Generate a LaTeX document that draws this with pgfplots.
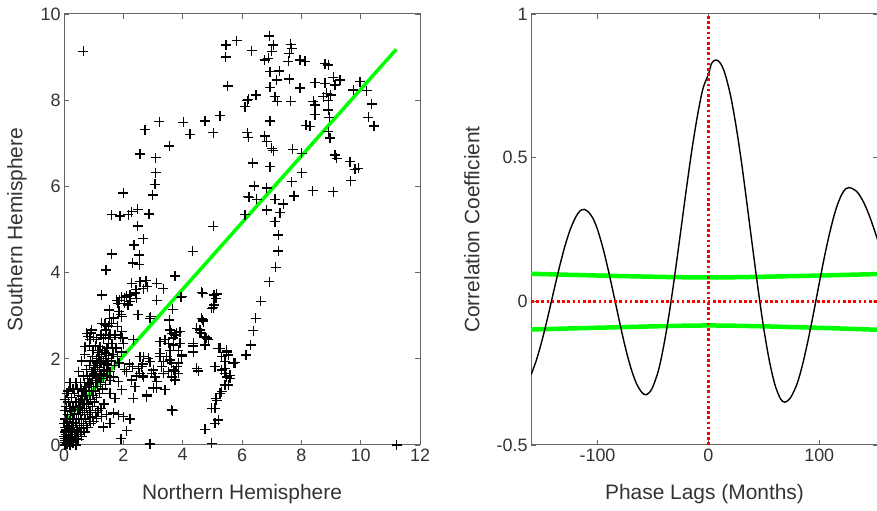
\documentclass[border=0pt]{standalone}
\usepackage{fontspec}
\setmainfont{Liberation Sans}
\usepackage{pgfplots}
\pgfplotsset{compat=1.18}
\definecolor{axtext}{HTML}{333333}
\definecolor{axline}{HTML}{666666}
\definecolor{mgreen}{HTML}{00FF00}
\definecolor{mred}{HTML}{FF0000}

\pgfplotsset{
  mlab/.style={
    scale only axis,
    axis line style={draw=axline, line width=1bp},
    tick style={draw=axline, line width=0.8bp},
    major tick length=5bp,
    tick align=inside,
    ticklabel style={font=\fontsize{18}{20}\selectfont, text=axtext},
    label style={font=\fontsize{21}{24}\selectfont, text=axtext},
    /pgf/number format/assume math mode=true,
  }
}

\pgfplotstableread{
x y
0.65 9.13
5.46 9.28
5.82 9.38
5.45 9.00
6.33 9.15
5.52 8.33
6.47 8.12
6.18 7.99
6.10 7.85
5.26 7.64
4.75 7.52
4.02 7.49
3.21 7.50
2.73 7.32
5.03 7.25
4.25 7.21
6.18 7.25
6.21 7.14
3.55 6.94
2.56 6.75
3.09 6.67
6.36 6.54
3.09 6.32
3.07 6.05
6.41 6.01
2.00 5.85
2.99 5.80
6.25 5.75
1.61 5.34
1.89 5.31
2.17 5.34
2.28 5.41
2.48 5.47
2.87 5.36
2.48 5.08
5.03 5.07
6.10 5.34
6.92 9.49
7.06 9.28
7.00 9.13
7.64 9.30
7.67 9.20
7.59 9.09
6.77 8.93
6.89 8.97
7.56 8.90
7.95 8.93
8.12 8.90
8.80 8.85
8.91 8.82
6.94 8.66
7.26 8.68
7.17 8.47
7.59 8.49
6.94 8.30
7.95 8.28
8.46 8.41
8.80 8.39
9.08 8.53
9.30 8.47
9.13 8.35
6.21 8.02
7.11 8.08
7.19 7.97
7.64 7.97
8.40 7.97
8.46 7.89
8.74 8.08
8.85 8.16
8.91 8.00
8.99 8.12
9.75 8.24
9.98 8.43
10.20 8.22
10.37 7.91
10.26 7.60
10.45 7.40
8.46 7.66
8.91 7.77
8.94 7.60
6.94 7.52
8.16 7.42
8.29 7.39
8.91 7.27
6.77 7.17
6.83 7.04
7.00 6.88
7.06 6.83
7.71 6.86
8.01 6.77
8.97 7.12
9.13 6.73
9.19 6.65
9.64 6.57
9.81 6.40
9.92 6.42
6.94 6.46
8.01 6.32
7.67 6.11
9.66 6.13
6.21 5.76
6.49 5.70
6.83 5.96
7.11 5.70
7.75 5.78
8.38 5.90
9.08 5.88
7.39 5.59
6.83 5.45
7.28 5.39
7.11 5.18
7.22 4.87
7.22 4.50
7.13 4.12
6.92 3.79
6.63 3.33
6.46 2.94
6.38 2.65
6.29 2.32
6.13 2.09
11.21 0.00
2.67 4.79
2.36 4.64
2.54 4.41
1.61 4.43
2.54 4.18
4.34 4.49
1.42 4.06
2.32 4.22
3.74 3.92
2.28 3.75
2.56 3.79
2.76 3.81
2.81 3.67
3.12 3.75
3.35 3.63
2.67 3.63
2.43 3.60
1.27 3.48
1.94 3.43
1.78 3.36
2.11 3.46
2.22 3.33
3.12 3.36
3.97 3.44
4.67 3.52
5.06 3.48
5.12 3.40
4.64 3.54
3.93 3.43
1.53 3.13
1.94 2.98
2.50 3.02
2.90 2.94
3.66 3.15
4.98 3.17
5.06 3.25
4.64 2.94
4.70 2.86
1.27 2.82
1.38 2.81
1.49 2.76
1.61 2.82
0.76 2.59
0.93 2.67
1.42 2.67
1.55 2.55
1.94 2.63
3.57 2.67
3.74 2.55
4.47 2.71
4.64 2.59
4.81 2.48
0.88 2.45
1.32 2.48
1.49 2.36
1.98 2.48
2.34 2.44
3.24 2.40
3.52 2.36
3.68 2.32
3.85 2.20
3.97 2.09
4.36 2.30
4.75 2.32
0.71 2.28
0.99 2.20
1.21 2.28
1.44 2.13
1.94 2.16
2.56 2.05
2.84 2.01
3.24 2.05
3.57 1.97
3.85 1.90
3.74 1.70
4.47 1.78
5.20 2.24
5.32 2.05
5.48 2.16
5.71 1.90
5.09 1.82
5.43 1.78
5.48 1.58
5.60 1.62
5.43 1.39
5.26 1.20
5.15 1.04
5.09 0.85
5.20 0.58
5.09 0.50
4.75 0.36
4.98 0.04
2.90 0.02
3.66 0.80
1.92 0.15
2.11 0.33
2.22 0.60
2.00 0.66
1.83 0.70
1.66 0.74
1.44 0.70
1.27 0.66
1.10 0.62
1.55 0.50
1.32 0.42
1.21 1.55
1.66 1.58
1.83 1.47
2.28 1.51
2.34 1.08
2.79 1.16
2.39 1.35
3.12 1.32
3.40 1.28
2.67 1.58
2.96 1.66
2.11 1.70
1.94 1.28
1.55 1.20
1.72 1.08
3.63 2.59
3.80 2.61
3.68 2.48
3.40 2.44
3.91 2.36
3.57 2.20
3.97 2.05
3.46 2.05
3.35 1.93
3.63 1.90
3.80 1.82
3.68 1.74
3.52 1.70
3.85 1.66
3.63 1.58
3.74 1.51
3.35 1.66
3.24 2.13
3.29 1.82
2.90 1.93
3.01 1.74
3.07 1.58
3.12 1.47
3.01 1.32
2.79 1.12
2.62 1.82
2.67 2.05
4.36 2.36
4.36 2.16
4.58 2.61
4.75 2.51
4.86 2.44
5.26 2.24
5.48 2.20
5.54 2.09
5.76 1.91
5.43 1.93
5.31 1.74
5.43 1.66
5.60 1.55
5.54 1.39
5.31 1.24
5.12 1.08
4.98 0.85
4.53 1.72
3.63 0.81
5.15 3.50
5.03 3.19
4.67 2.90
4.58 2.67
2.92 2.98
3.55 2.90
3.91 2.63
1.88 3.36
2.05 3.42
2.22 3.48
2.40 3.53
2.44 3.40
1.82 3.29
2.05 3.29
2.16 3.25
2.49 3.02
1.93 3.02
1.54 2.94
1.40 2.78
0.90 2.60
0.80 2.52
1.00 2.50
1.10 2.45
1.25 2.55
1.40 2.55
1.50 2.50
1.90 2.50
2.00 2.35
0.85 2.30
0.95 2.20
1.15 2.15
1.30 2.20
1.45 2.25
1.50 2.08
1.40 2.00
0.90 1.95
1.10 2.00
1.25 1.90
1.45 1.88
1.00 1.80
1.20 1.75
1.35 1.72
1.45 1.62
0.95 1.62
1.10 1.58
1.25 1.55
2.05 1.75
2.20 1.88
2.30 1.82
2.50 1.78
2.65 1.88
2.55 1.66
2.65 1.62
2.45 1.60
0.02 0.00
0.05 0.05
0.08 0.10
0.10 0.02
0.12 0.15
0.15 0.08
0.18 0.20
0.20 0.05
0.22 0.30
0.25 0.15
0.28 0.25
0.30 0.40
0.32 0.10
0.35 0.30
0.38 0.50
0.40 0.20
0.42 0.45
0.45 0.35
0.48 0.60
0.50 0.25
0.52 0.50
0.55 0.70
0.58 0.40
0.60 0.60
0.62 0.80
0.65 0.50
0.68 0.75
0.70 0.95
0.72 0.60
0.75 0.85
0.78 1.05
0.80 0.70
0.82 0.95
0.85 1.15
0.88 0.80
0.90 1.05
0.92 1.25
0.95 0.90
0.98 1.15
1.00 1.35
1.02 1.00
1.05 1.25
1.08 1.45
1.10 1.10
1.12 1.35
1.15 1.55
1.20 1.20
1.22 1.45
1.25 1.65
1.30 1.30
1.32 1.55
1.35 1.75
1.40 1.40
1.45 1.60
1.50 1.85
1.55 1.50
0.00 0.20
0.02 0.40
0.05 0.60
0.03 0.80
0.08 0.90
0.05 1.05
0.10 1.20
0.15 1.00
0.12 0.70
0.20 0.85
0.18 0.55
0.25 1.10
0.30 0.90
0.35 1.20
0.40 1.00
0.45 1.30
0.50 1.15
0.55 1.45
0.60 1.30
0.65 1.60
0.70 1.45
0.75 1.75
0.80 1.60
0.20 0.00
0.30 0.05
0.40 0.00
0.50 0.12
0.60 0.20
0.70 0.30
0.80 0.40
0.90 0.50
1.00 0.55
0.05 0.30
0.10 0.40
0.15 0.35
0.25 0.45
0.08 0.25
0.30 0.60
0.45 0.15
0.00 0.50
0.02 0.10
0.10 0.60
0.85 1.85
0.60 1.95
0.50 1.70
0.40 1.45
0.30 1.30
0.20 1.45
0.15 1.25
0.95 2.05
1.05 2.30
0.70 2.10
0.04 0.15
0.07 0.35
0.11 0.50
0.14 0.22
0.17 0.42
0.21 0.62
0.24 0.78
0.27 0.35
0.33 0.52
0.36 0.72
0.39 0.88
0.43 0.62
0.47 0.82
0.51 0.98
0.54 0.88
0.57 1.05
0.61 1.12
0.64 0.95
0.67 1.25
0.71 1.15
0.74 1.35
0.77 1.25
0.81 1.45
0.84 1.35
0.87 1.55
0.91 1.45
0.94 1.70
0.97 1.50
1.01 1.65
1.04 1.85
1.07 1.70
1.11 1.90
1.14 1.80
1.18 2.05
1.21 1.95
1.27 2.10
1.33 1.95
1.38 2.15
1.55 1.70
1.60 1.95
1.65 2.10
1.70 1.85
1.75 2.25
1.80 2.05
1.85 1.90
1.62 2.35
1.72 2.55
1.80 2.75
1.68 2.95
1.85 3.10
0.06 0.00
0.12 0.05
0.16 0.12
0.24 0.08
0.35 0.18
0.55 0.30
0.65 0.38
0.75 0.45
0.85 0.55
0.95 0.65
1.05 0.75
1.15 0.80
1.25 0.85
1.35 0.95
}\scatterdata

\pgfplotstableread{
lag r
-160 -0.256
-155 -0.203
-150 -0.135
-145 -0.057
-140 0.027
-135 0.109
-130 0.184
-125 0.246
-120 0.291
-116 0.314
-112 0.320
-108 0.310
-104 0.288
-100 0.250
-95 0.184
-90 0.104
-85 0.016
-80 -0.074
-75 -0.159
-70 -0.231
-65 -0.285
-60 -0.317
-56 -0.325
-51 -0.305
-45 -0.240
-40 -0.149
-35 -0.034
-30 0.100
-25 0.243
-20 0.387
-15 0.524
-10 0.643
-5 0.739
0 0.790
3 0.829
7 0.840
11 0.828
15 0.792
20 0.716
25 0.609
30 0.480
35 0.334
40 0.184
45 0.038
50 -0.096
55 -0.207
60 -0.290
65 -0.339
69 -0.351
74 -0.336
80 -0.287
85 -0.219
90 -0.134
95 -0.038
100 0.063
105 0.161
110 0.248
115 0.320
120 0.370
124 0.392
127 0.396
131 0.390
135 0.377
140 0.345
145 0.300
150 0.245
153 0.210
}\corrdata

\begin{document}
\begin{tikzpicture}
\useasboundingbox (0,0) rectangle (877bp,511bp);

% left panel: scatter
\begin{axis}[mlab,
  at={(64bp,66bp)}, anchor=south west,
  width=356bp, height=431bp,
  xmin=0, xmax=12, ymin=0, ymax=10,
  xtick={0,2,...,12}, ytick={0,2,...,10},
  xlabel={Northern Hemisphere},
  ylabel={Southern Hemisphere},
  xlabel style={at={(axis description cs:0.5,-0.114)}, anchor=center},
  ylabel style={at={(axis description cs:-0.132,0.5)}, anchor=center},
]
\addplot[only marks, mark=+, mark size=5bp, mark options={line width=1.3bp, black}]
  table[x=x, y=y] {\scatterdata};
\addplot[mgreen, line width=3.5bp] coordinates {(0,0.52) (11.2,9.18)};
\end{axis}

% right panel: lagged correlation
\begin{axis}[mlab,
  at={(531bp,66bp)}, anchor=south west,
  width=347bp, height=431bp,
  xmin=-160, xmax=153, ymin=-0.5, ymax=1,
  xtick={-100,0,100}, ytick={-0.5,0,0.5,1},
  xticklabels={-100,0,100}, yticklabels={-0.5,0,0.5,1},
  xlabel={Phase Lags (Months)},
  ylabel={Correlation Coefficient},
  xlabel style={at={(axis description cs:0.5,-0.114)}, anchor=center},
  ylabel style={at={(axis description cs:-0.170,0.5)}, anchor=center},
]
\addplot[mgreen, line width=4.5bp, smooth] coordinates {
  (-160,0.096) (-80,0.088) (0,0.083) (80,0.088) (153,0.095)};
\addplot[mgreen, line width=4.5bp, smooth] coordinates {
  (-160,-0.098) (-80,-0.090) (0,-0.084) (80,-0.090) (153,-0.099)};
\addplot[black, line width=1.4bp, smooth] table[x=lag, y=r] {\corrdata};
\addplot[mred, line width=2.6bp, dash pattern=on 2.6bp off 2.6bp] coordinates {(0,-0.5) (0,1)};
\addplot[mred, line width=2.6bp, dash pattern=on 2.6bp off 2.6bp] coordinates {(-160,0) (153,0)};
\end{axis}
\end{tikzpicture}
\end{document}
